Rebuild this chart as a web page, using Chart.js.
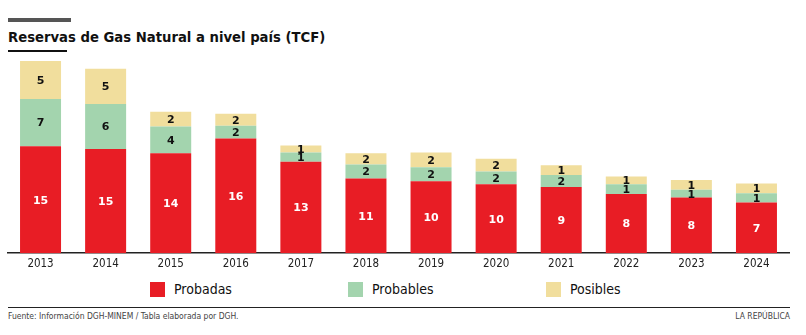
<!DOCTYPE html>
<html>
<head>
<meta charset="utf-8">
<script src="https://cdn.jsdelivr.net/npm/chart.js@4.4.1/dist/chart.umd.min.js"></script>
<style>
    body { margin: 0; background: #fff; width: 806px; height: 335px; position: relative; overflow: hidden; font-family: "DejaVu Sans Condensed", "DejaVu Sans", sans-serif; }
    #topbar { position: absolute; left: 8px; top: 18px; width: 63px; height: 4px; background: #555; }
    #title { position: absolute; left: 8px; top: 28px; font-size: 14.7px; font-weight: bold; color: #111; white-space: nowrap; }
    #underline { position: absolute; left: 8px; top: 50px; width: 59px; height: 2px; background: #111; }
    #wrap { position: absolute; left: 0; top: 48px; width: 806px; height: 227px; }
    #legend { position: absolute; left: 150px; top: 281px; display: flex; }
    .item { width: 198px; display: flex; align-items: center; font-size: 14px; color: #111; }
    .box { width: 15px; height: 15px; margin-right: 9px; }
    #footline { position: absolute; left: 8px; top: 307px; width: 782px; height: 1px; background: #222; }
    #source { position: absolute; left: 8px; top: 311px; font-size: 8.5px; color: #444; white-space: nowrap; }
    #brand { position: absolute; right: 16px; top: 311px; font-size: 8.5px; color: #444; }
</style>
</head>
<body>
<div id="topbar"></div>
<div id="title">Reservas de Gas Natural a nivel país (TCF)</div>
<div id="underline"></div>
<div id="wrap"><canvas id="myChart"></canvas></div>
<div id="legend"></div>
<div id="footline"></div>
<div id="source">Fuente: Información DGH-MINEM / Tabla elaborada por DGH.</div>
<div id="brand">LA REPÚBLICA</div>
<script>
var years = ['2013', '2014', '2015', '2016', '2017', '2018', '2019', '2020', '2021', '2022', '2023', '2024']
var probadas = [15.2, 14.8, 14.2, 16.3, 13.0, 10.6, 10.2, 9.8, 9.4, 8.4, 7.9, 7.2]
var probables = [6.7, 6.4, 3.8, 1.8, 1.3, 2.0, 2.0, 1.8, 1.7, 1.4, 1.1, 1.3]
var posibles = [5.4, 5.0, 2.1, 1.7, 1.0, 1.6, 2.1, 1.8, 1.4, 1.1, 1.4, 1.4]

var seriesNames = ['Probadas', 'Probables', 'Posibles']
var seriesColors = ['#E81D25', '#A3D4AE', '#F1DE9D']
var labelColors = ['#ffffff', '#111111', '#111111']

// writes the rounded value inside each segment
const barLabels = {
    id: 'barLabels',
    afterDatasetsDraw(chart) {
        const ctx = chart.ctx;
        ctx.save();
        ctx.font = 'bold 11px "DejaVu Sans", sans-serif';
        ctx.textAlign = 'center';
        ctx.textBaseline = 'middle';
        chart.data.datasets.forEach(function(ds, i) {
            const meta = chart.getDatasetMeta(i);
            meta.data.forEach(function(bar, j) {
                ctx.fillStyle = labelColors[i];
                ctx.fillText(Math.round(ds.data[j]), bar.x, (bar.y + bar.base) / 2 + 1);
            });
        });
        ctx.restore();
    }
};

function buildLegend(chart) {
    const legend = document.getElementById('legend');
    chart.data.datasets.forEach(function(ds) {
        const item = document.createElement('div');
        item.className = 'item';
        const box = document.createElement('span');
        box.className = 'box';
        box.style.background = ds.backgroundColor;
        item.appendChild(box);
        item.appendChild(document.createTextNode(ds.label));
        legend.appendChild(item);
    });
}

const ctx = document.getElementById('myChart');
const myChart = new Chart(ctx, {
    type: 'bar',
    data: {
        labels: years,
        datasets: [probadas, probables, posibles].map(function(values, i) {
            return {
                label: seriesNames[i],
                data: values,
                backgroundColor: seriesColors[i],
                barPercentage: 0.63,
                categoryPercentage: 1
            };
        })
    },
    options: {
        responsive: true,
        maintainAspectRatio: false,
        animation: false,
        layout: { padding: { left: 8, right: 17, top: 8, bottom: 0 } },
        plugins: { legend: { display: false }, tooltip: { enabled: false } },
        scales: {
            x: {
                stacked: true,
                grid: { display: false, drawTicks: false },
                border: { display: true, color: '#222', width: 1.5 },
                ticks: { color: '#222', padding: 4, font: { family: '"DejaVu Sans Condensed", "DejaVu Sans", sans-serif', size: 11.5 } }
            },
            y: {
                stacked: true,
                display: false,
                min: 0,
                max: 28
            }
        }
    },
    plugins: [barLabels]
});
buildLegend(myChart);
</script>
</body>
</html>
